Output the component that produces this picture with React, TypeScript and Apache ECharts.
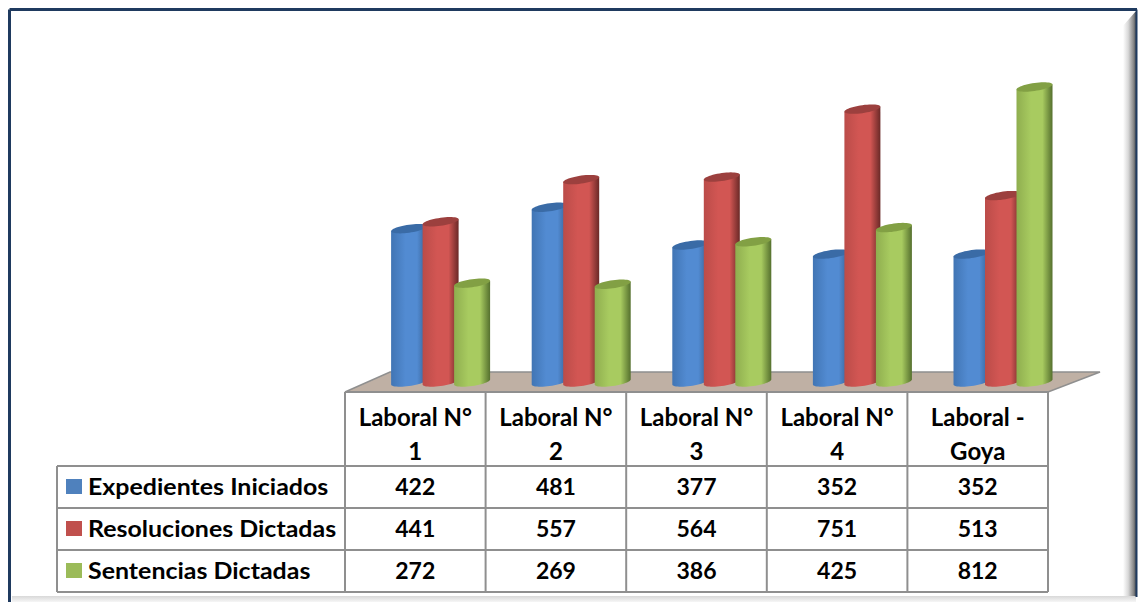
import React, { useEffect, useRef } from "react";
import * as echarts from "echarts";

const categories = ["Laboral N°\n1", "Laboral N°\n2", "Laboral N°\n3", "Laboral N°\n4", "Laboral -\nGoya"];
const expedientes = [422, 481, 377, 352, 352];
const resoluciones = [441, 557, 564, 751, 513];
const sentencias = [272, 269, 386, 425, 812];
const seriesNames = ["Expedientes Iniciados", "Resoluciones Dictadas", "Sentencias Dictadas"];
const seriesValues = [expedientes, resoluciones, sentencias];
const palette = [
  { swatch: "#4F81BD", left: "#4175b4", mid: "#528bd2", right: "#365f92", cap: "#3a6ba6" },
  { swatch: "#C0504D", left: "#bb4c49", mid: "#d25653", right: "#6a2927", cap: "#9c403e" },
  { swatch: "#9BBB59", left: "#8fae4f", mid: "#a8cb60", right: "#55702e", cap: "#82a044" },
];

const FONT = "Lato";
const LINE = "#8f8f8f";
const GRID_LEFT = 345;
const GRID_RIGHT = 1048;
const BASE_Y = 382;
const TABLE_TOP = 392;
const rowY = [466, 508, 550, 592];
const LEGEND_LEFT = 57;
const colW = (GRID_RIGHT - GRID_LEFT) / categories.length;

function cylinder(seriesIndex: number) {
  const c = palette[seriesIndex];
  const rx = 18;
  const ry = 4;
  const skew = 2.5;
  const depth = 25.3;
  const pitch = 31.5;
  return (params: any, api: any) => {
    const pt = api.coord([api.value(0), api.value(1)]);
    const base = api.coord([api.value(0), 0]);
    const cx = pt[0] + depth + (seriesIndex - 1) * pitch;
    const at = (cy: number, t: number) => [cx + rx * Math.cos(t), cy - skew * Math.cos(t) + ry * Math.sin(t)];
    const bodyPts: number[][] = [at(pt[1], Math.PI)];
    for (let i = 0; i <= 24; i++) bodyPts.push(at(base[1], Math.PI - (Math.PI * i) / 24));
    bodyPts.push(at(pt[1], 0));
    const capPts: number[][] = [];
    for (let i = 0; i < 48; i++) capPts.push(at(pt[1], (2 * Math.PI * i) / 48));
    return {
      type: "group",
      children: [
        {
          type: "polygon",
          shape: { points: bodyPts },
          style: {
            fill: new echarts.graphic.LinearGradient(0, 0, 1, 0, [
              { offset: 0, color: c.left },
              { offset: 0.4, color: c.mid },
              { offset: 0.72, color: c.mid },
              { offset: 1, color: c.right },
            ]),
          },
        },
        { type: "polygon", shape: { points: capPts }, style: { fill: c.cap } },
      ],
    };
  };
}

function buildGraphic() {
  const els: any[] = [];
  const line = (x1: number, y1: number, x2: number, y2: number) =>
    els.push({ type: "line", z: 5, shape: { x1, y1, x2, y2 }, style: { stroke: LINE, lineWidth: 2 } });
  // frame
  els.push({
    type: "rect", z: -10,
    shape: { x: 1123, y: 12, width: 13, height: 585 },
    style: { fill: new echarts.graphic.LinearGradient(0, 0, 1, 0, [
      { offset: 0, color: "#ffffff" }, { offset: 0.4, color: "#d8d8d8" }, { offset: 0.8, color: "#8a8a8a" }, { offset: 1, color: "#4a4f55" },
    ]) },
  });
  els.push({
    type: "polygon", z: -10,
    shape: { points: [[1122, 11], [1136, 11], [1122, 27]] },
    style: { fill: "#ffffff" },
  });
  els.push({
    type: "rect", z: -10,
    shape: { x: 12, y: 596, width: 1124, height: 6 },
    style: { fill: new echarts.graphic.LinearGradient(0, 0, 0, 1, [
      { offset: 0, color: "#d8d8d8" }, { offset: 1, color: "#f6f6f6" },
    ]) },
  });
  els.push({ type: "line", z: -9, shape: { x1: 9.5, y1: 9.5, x2: 1137, y2: 9.5 }, style: { stroke: "#1f3a5f", lineWidth: 3 } });
  els.push({ type: "line", z: -9, shape: { x1: 9.5, y1: 9.5, x2: 9.5, y2: 602 }, style: { stroke: "#1f3a5f", lineWidth: 3 } });
  els.push({ type: "line", z: -9, shape: { x1: 1136.5, y1: 9.5, x2: 1136.5, y2: 597 }, style: { stroke: "#1f3a5f", lineWidth: 2 } });
  // floor
  els.push({
    type: "polygon", z: -5,
    shape: { points: [[GRID_LEFT, TABLE_TOP], [390, 372], [1100, 372], [GRID_RIGHT, TABLE_TOP]] },
    style: { fill: "#bfb0a4", stroke: LINE, lineWidth: 1.5 },
  });
  // table lines
  line(GRID_LEFT, TABLE_TOP, GRID_RIGHT, TABLE_TOP);
  rowY.forEach((y) => line(LEGEND_LEFT, y, GRID_RIGHT, y));
  line(LEGEND_LEFT, rowY[0], LEGEND_LEFT, rowY[3]);
  categories.forEach((_, i) => line(GRID_LEFT + i * colW, TABLE_TOP, GRID_LEFT + i * colW, rowY[3]));
  line(GRID_RIGHT, TABLE_TOP, GRID_RIGHT, rowY[3]);
  // rows
  seriesNames.forEach((name, r) => {
    const cy = (rowY[r] + rowY[r + 1]) / 2;
    els.push({ type: "rect", z: 6, shape: { x: 66, y: cy - 8, width: 16, height: 15 }, style: { fill: palette[r].swatch } });
    els.push({
      type: "text", z: 6, x: 88, y: cy - 1, scaleX: 1.11,
      style: { text: name, font: `bold 22.5px ${FONT}`, fill: "#000", textAlign: "left", textVerticalAlign: "middle" },
    });
    seriesValues[r].forEach((v, i) => {
      els.push({
        type: "text", z: 6, x: GRID_LEFT + (i + 0.5) * colW, y: cy - 1,
        style: { text: String(v), font: `bold 23px ${FONT}`, fill: "#000", textAlign: "center", textVerticalAlign: "middle" },
      });
    });
  });
  return els;
}

export default function App() {
  const ref = useRef<HTMLDivElement>(null);
  useEffect(() => {
    document.body.style.margin = "0";
    const chart = echarts.init(ref.current!, null, { renderer: "svg" });
    chart.setOption({
      animation: false,
      backgroundColor: "#ffffff",
      tooltip: { show: false },
      legend: { show: false },
      graphic: { elements: buildGraphic() },
      grid: { left: GRID_LEFT, width: GRID_RIGHT - GRID_LEFT, top: BASE_Y - 327, bottom: 602 - BASE_Y, containLabel: false },
      xAxis: {
        type: "category",
        data: categories,
        axisLine: { show: false },
        axisTick: { show: false },
        axisLabel: {
          interval: 0, margin: 17, lineHeight: 34, color: "#000",
          fontFamily: FONT, fontWeight: "bold", fontSize: 24,
        },
      },
      yAxis: { type: "value", min: 0, max: 900, show: false, splitLine: { show: false } },
      series: seriesNames.map((name, s) => ({
        type: "custom",
        name,
        z: 3 + s,
        clip: false,
        renderItem: cylinder(s),
        encode: { x: 0, y: 1 },
        data: seriesValues[s].map((v, i) => [i, v]),
      })),
    });
    return () => chart.dispose();
  }, []);
  return <div ref={ref} style={{ position: "absolute", left: 0, top: 0, width: 1142, height: 602 }} />;
}
